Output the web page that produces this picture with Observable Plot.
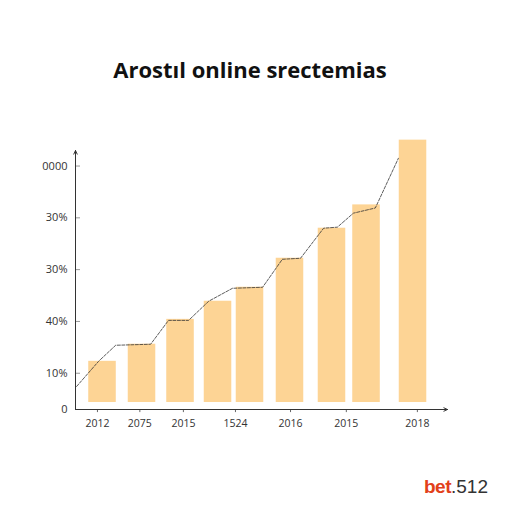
<!DOCTYPE html>
<html>
<head>
<meta charset="utf-8">
<script src="https://cdn.jsdelivr.net/npm/d3@7"></script>
<script src="https://cdn.jsdelivr.net/npm/@observablehq/plot@0.6"></script>
<style>
  html, body { margin: 0; padding: 0; background: #fff; width: 512px; height: 512px; overflow: hidden; }
  #title { height: 100px; box-sizing: border-box; padding-top: 55px; text-align: center;
           font-family: "Open Sans", sans-serif; font-weight: 700; font-size: 22px; line-height: 28px; color: #111; padding-right: 12px; }
  #chart svg { display: block; }
  #logo { position: absolute; left: 424px; top: 476px; font-family: "Liberation Sans", Arial, sans-serif; font-size: 19px; }
  #logo .b { color: #e2401a; font-weight: 700; letter-spacing: -0.5px; }
  #logo .n { color: #333; }
</style>
</head>
<body>
<div id="title">Arostıl online srectemias</div>
<div id="chart"></div>
<div id="logo"><span class="b">bet</span><span class="n">.512</span></div>
<script>
// bar positions (continuous x units) and heights
const barPos   = [0.726, 1.788, 2.823, 3.831, 4.691, 5.766, 6.895, 7.823, 9.073];
const barValue = [9.3, 12.6, 17.4, 20.9, 23.6, 29.2, 35.0, 39.5, 52.0];
const barBase  = 1.35;
// dashed trend line
const lineX = [0.03, 0.62, 1.08, 2.02, 2.5, 3.04, 3.58, 4.22, 5.03, 5.56, 6.05, 6.67, 7.04, 7.47, 8.06, 8.68];
const lineY = [4.45, 9.3, 12.4, 12.6, 17.2, 17.2, 20.9, 23.4, 23.6, 29.0, 29.2, 35.0, 35.2, 37.9, 38.9, 48.5];
// x tick labels
const xTickPos    = [0.59, 1.73, 2.90, 4.30, 5.78, 7.28, 9.19];
const xTickLabels = ["2012", "2075", "2015", "1524", "2016", "2015", "2018"];
// y tick labels
const yTickValues = [0, 7, 17, 27, 37, 47];
const yTickLabels = ["0", "10%", "40%", "30%", "30%", "0000"];

const bars = barPos.map((p, i) => ({x: p, v: barValue[i]}));
const line = lineX.map((x, i) => ({x, y: lineY[i]}));
const xt = xTickPos.map((p, i) => ({x: p, label: xTickLabels[i]}));
const bw = 0.37;

const chart = Plot.plot({
  width: 512,
  height: 372,
  marginLeft: 75,
  marginRight: 65,
  marginTop: 50,
  marginBottom: 63,
  style: {fontFamily: "'Open Sans', sans-serif", background: "transparent"},
  x: {type: "linear", domain: [0, 10], axis: null},
  y: {type: "linear", domain: [0, 50], axis: null},
  marks: [
    Plot.rect(bars, {x1: d => d.x - bw, x2: d => d.x + bw, y1: () => barBase, y2: "v", fill: "#fdd495"}),
    Plot.line(line, {x: "x", y: "y", stroke: "#333", strokeWidth: 0.8, strokeDasharray: "3,1.5"}),
    Plot.axisY({ticks: yTickValues, tickFormat: (d) => yTickLabels[yTickValues.indexOf(d)],
      tickSize: -5, tickPadding: 13, stroke: "#999", fontSize: 11, color: "#333", label: null}),
    Plot.ruleX(xt, {x: "x", y1: () => 0, y2: () => -0.6, stroke: "#666"}),
    Plot.text(xt, {x: "x", y: () => 0, text: "label", dy: 14, fontSize: 10.5, fill: "#333"}),
    Plot.arrow([{}], {x1: () => 0, y1: () => 0, x2: () => 0, y2: () => 50, stroke: "#333", strokeWidth: 1, headLength: 6, headAngle: 50}),
    Plot.arrow([{}], {x1: () => 0, y1: () => 0, x2: () => 10, y2: () => 0, stroke: "#333", strokeWidth: 1, headLength: 6, headAngle: 50})
  ]
});
document.getElementById("chart").appendChild(chart);
</script>
</body>
</html>
